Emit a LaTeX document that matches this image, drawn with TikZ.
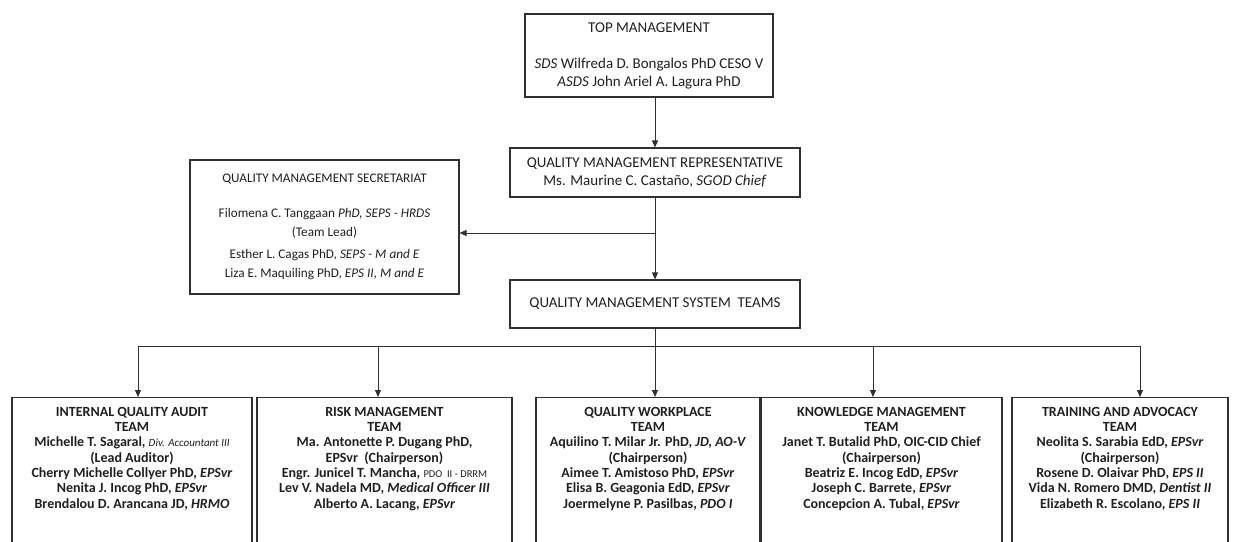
\documentclass[tikz,border=0pt]{standalone}
\usepackage{fontspec}
\setmainfont{Carlito}
\usetikzlibrary{arrows.meta}
\definecolor{ink}{HTML}{303030}
\definecolor{txt}{HTML}{202020}
\begin{document}
\begin{tikzpicture}[x=1pt,y=-1pt,
  box/.style={draw=ink, line width=1.1pt, rectangle, inner sep=0pt, text=txt, align=center},
  upper/.style={box, font=\fontsize{15}{17.5}\selectfont},
  team/.style={box, anchor=north, font=\bfseries\fontsize{14}{15.3}\selectfont},
  arr/.style={draw=ink, line width=1pt, -{Triangle[length=7pt,width=6pt]}},
  ln/.style={draw=ink, line width=1pt}]
\useasboundingbox (0,0) rectangle (1236,541);
\fill[white] (0,0) rectangle (1236,541);
\clip (0,0) rectangle (1236,541);

% upper boxes
\node[upper, minimum width=248pt, minimum height=83pt] (top) at (649,55.5)
  {TOP MANAGEMENT\\[19pt]
   \textit{SDS} Wilfreda D. Bongalos PhD CESO V\\
   \textit{ASDS} John Ariel A. Lagura PhD};

\node[upper, minimum width=290pt, minimum height=49pt] (qmr) at (655,172.5)
  {QUALITY MANAGEMENT REPRESENTATIVE\\
   Ms. Maurine C. Castaño, \textit{SGOD Chief}};

\node[box, font=\fontsize{13.2}{19}\selectfont, minimum width=269pt, minimum height=134pt] (sec) at (324.5,227)
  {QUALITY MANAGEMENT SECRETARIAT\\[16pt]
   Filomena C. Tanggaan \textit{PhD, SEPS - HRDS}\\
   (Team Lead)\\[3pt]
   Esther L. Cagas PhD, \textit{SEPS - M and E}\\
   Liza E. Maquiling PhD, \textit{EPS II, M and E}};

\node[upper, font=\fontsize{15}{17.5}\selectfont, minimum width=290pt, minimum height=48pt] (qms) at (655,304)
  {QUALITY MANAGEMENT SYSTEM\ \ TEAMS};

% team boxes
\newcommand{\teamtext}[2]{\parbox[t][155pt][t]{#1}{\centering\vspace*{9.5pt}#2}}
\node[team] (t1) at (132,397) {\teamtext{240pt}{%
  INTERNAL QUALITY AUDIT\\
  TEAM\\
  Michelle T. Sagaral, {\mdseries\itshape\fontsize{11}{15.3}\selectfont Div. Accountant III}\\
  (Lead Auditor)\\
  Cherry Michelle Collyer PhD, \textit{EPSvr}\\
  Nenita J. Incog PhD, \textit{EPSvr}\\
  Brendalou D. Arancana JD, \textit{HRMO}}};

\node[team] (t2) at (384.5,397) {\teamtext{255pt}{%
  RISK MANAGEMENT\\
  TEAM\\
  Ma. Antonette P. Dugang PhD,\\
  EPSvr\ \ (Chairperson)\\
  Engr. Junicel T. Mancha, {\mdseries\fontsize{10.5}{15.3}\selectfont PDO\ \ II - DRRM}\\
  Lev V. Nadela MD, \textit{Medical Officer III}\\
  Alberto A. Lacang, \textit{EPSvr}}};

\node[team] (t3) at (648,397) {\teamtext{224pt}{%
  QUALITY WORKPLACE\\
  TEAM\\
  Aquilino T. Milar Jr. PhD, \textit{JD, AO-V}\\
  (Chairperson)\\
  Aimee T. Amistoso PhD, \textit{EPSvr}\\
  Elisa B. Geagonia EdD, \textit{EPSvr}\\
  Joermelyne P. Pasilbas, \textit{PDO I}}};

\node[team] (t4) at (881.5,397) {\teamtext{241pt}{%
  KNOWLEDGE MANAGEMENT\\
  TEAM\\
  Janet T. Butalid PhD, OIC-CID Chief\\
  (Chairperson)\\
  Beatriz E. Incog EdD, \textit{EPSvr}\\
  Joseph C. Barrete, \textit{EPSvr}\\
  Concepcion A. Tubal, \textit{EPSvr}}};

\node[team] (t5) at (1120,397) {\teamtext{216pt}{%
  TRAINING AND ADVOCACY\\
  TEAM\\
  Neolita S. Sarabia EdD, \textit{EPSvr}\\
  (Chairperson)\\
  Rosene D. Olaivar PhD, \textit{EPS II}\\
  Vida N. Romero DMD, \textit{Dentist II}\\
  Elizabeth R. Escolano, \textit{EPS II}}};

% connectors
\coordinate (spine) at (655,0);
\coordinate (br) at (655,233);
\draw[arr] (top.south -| spine) -- (qmr.north -| spine);
\draw[arr] (qmr.south) -- (qms.north);
\draw[arr] (br) -- (br -| sec.east);

\coordinate (d1) at (138,346);
\coordinate (d2) at (378,346);
\coordinate (d3) at (655,346);
\coordinate (d4) at (873,346);
\coordinate (d5) at (1140,346);
\draw[ln] (qms.south) -- (d3);
\draw[ln] (d1) -- (d5);
\draw[arr] (d1) -- (d1 |- t1.north);
\draw[arr] (d2) -- (d2 |- t2.north);
\draw[arr] (d3) -- (d3 |- t3.north);
\draw[arr] (d4) -- (d4 |- t4.north);
\draw[arr] (d5) -- (d5 |- t5.north);
\end{tikzpicture}
\end{document}
